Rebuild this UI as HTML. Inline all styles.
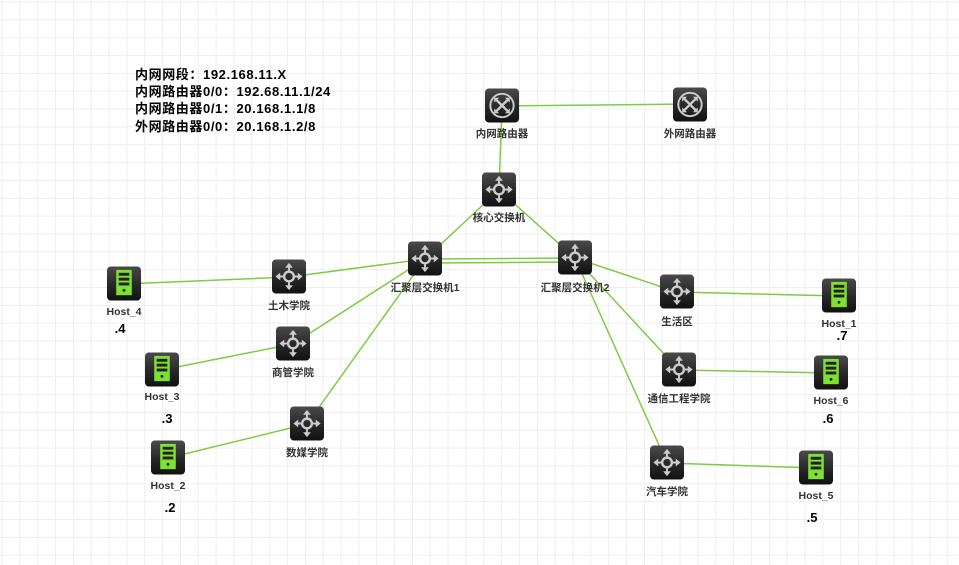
<!DOCTYPE html>
<html><head><meta charset="utf-8"><style>
html,body{margin:0;padding:0;}
body{width:959px;height:565px;overflow:hidden;background-color:#fff;
background-image:linear-gradient(to right,#efefef 1.2px,transparent 1.2px),linear-gradient(to bottom,#efefef 1.2px,transparent 1.2px);
background-size:17.85px 17.85px;background-position:1.5px 1.5px;}
svg{position:absolute;left:0;top:0;}
text{font-family:"Liberation Sans","Noto Sans CJK SC",sans-serif;font-size:10.5px;fill:#333;text-anchor:middle;font-weight:bold;}
.info{font-weight:bold;font-size:13px;fill:#000;text-anchor:start;letter-spacing:0.6px;}
.dot{font-size:13px;fill:#000;font-weight:bold;}
</style></head><body>
<svg width="959" height="565" viewBox="0 0 959 565">
<defs>
<linearGradient id="g" x1="0" y1="0" x2="0" y2="1"><stop offset="0" stop-color="#4a4a4a"/><stop offset="0.5" stop-color="#2a2a2a"/><stop offset="1" stop-color="#111"/></linearGradient>
<symbol id="sw" viewBox="0 0 36 36"><rect x="0.5" y="0.5" width="35" height="35" rx="4" fill="url(#g)"/>
<g fill="#ccc" stroke="#ccc"><circle cx="18" cy="18" r="5" fill="none" stroke-width="2.5"/>
<path d="M18 4l-4 5h8zM18 32l-4-5h8zM4 18l5-4v8zM32 18l-5-4v8z" stroke="none"/>
<path d="M18 8v5M18 23v5M8 18h5M23 18h5" stroke-width="2"/></g></symbol>
<symbol id="rt" viewBox="0 0 36 36"><rect x="0.5" y="0.5" width="35" height="35" rx="4" fill="url(#g)"/>
<circle cx="18" cy="18" r="12" fill="none" stroke="#ccc" stroke-width="2"/>
<path d="M11 11l14 14M25 11l-14 14" stroke="#ccc" stroke-width="2.5"/>
<path d="M10 10h5l-5 5zM26 10h-5l5 5zM10 26h5l-5-5zM26 26h-5l5-5z" fill="#ccc"/></symbol>
<symbol id="hs" viewBox="0 0 36 36"><rect x="0.5" y="0.5" width="35" height="35" rx="4" fill="url(#g)"/>
<rect x="10" y="4" width="16" height="26" fill="#7fe12f"/>
<rect x="12.5" y="7" width="11" height="3" fill="#222"/><rect x="12.5" y="12" width="11" height="3" fill="#222"/><rect x="12.5" y="17" width="11" height="3" fill="#222"/>
<circle cx="18" cy="25" r="1.5" fill="#222"/></symbol>
</defs>
<g stroke="#7ccc44" stroke-width="1.5" fill="none">
<line x1="502" y1="106" x2="690" y2="104"/>
<line x1="502" y1="106" x2="499" y2="190"/>
<line x1="499" y1="190" x2="425" y2="259"/>
<line x1="499" y1="190" x2="575" y2="258"/>
<line x1="425" y1="259" x2="575" y2="258"/>
<line x1="425" y1="263" x2="575" y2="262"/>
<line x1="425" y1="259" x2="289" y2="277"/>
<line x1="425" y1="259" x2="293" y2="344"/>
<line x1="425" y1="259" x2="307" y2="424"/>
<line x1="289" y1="277" x2="124" y2="284"/>
<line x1="293" y1="344" x2="162" y2="370"/>
<line x1="307" y1="424" x2="168" y2="458"/>
<line x1="575" y1="258" x2="677" y2="292"/>
<line x1="575" y1="258" x2="679" y2="370"/>
<line x1="575" y1="258" x2="667" y2="463"/>
<line x1="677" y1="292" x2="839" y2="296"/>
<line x1="679" y1="370" x2="831" y2="373"/>
<line x1="667" y1="463" x2="816" y2="468"/>
</g>
<use href="#rt" x="484.5" y="88" width="35" height="35"/>
<use href="#rt" x="672.5" y="87" width="35" height="35"/>
<use href="#sw" x="481.5" y="172" width="35" height="35"/>
<use href="#sw" x="407.5" y="241" width="35" height="35"/>
<use href="#sw" x="557.5" y="240" width="35" height="35"/>
<use href="#sw" x="271.5" y="259" width="35" height="35"/>
<use href="#sw" x="275.5" y="326" width="35" height="35"/>
<use href="#sw" x="289.5" y="406" width="35" height="35"/>
<use href="#sw" x="659.5" y="274" width="35" height="35"/>
<use href="#sw" x="661.5" y="352" width="35" height="35"/>
<use href="#sw" x="649.5" y="445" width="35" height="35"/>
<use href="#hs" x="106.5" y="266" width="35" height="35"/>
<use href="#hs" x="144.5" y="352" width="35" height="35"/>
<use href="#hs" x="150.5" y="440" width="35" height="35"/>
<use href="#hs" x="821.5" y="278" width="35" height="35"/>
<use href="#hs" x="813.5" y="355" width="35" height="35"/>
<use href="#hs" x="798.5" y="450" width="35" height="35"/>
<text x="502" y="137">内网路由器</text>
<text x="690" y="137">外网路由器</text>
<text x="499" y="221">核心交换机</text>
<text x="425" y="291">汇聚层交换机1</text>
<text x="575" y="291">汇聚层交换机2</text>
<text x="289" y="309">土木学院</text>
<text x="293" y="376">商管学院</text>
<text x="307" y="456">数媒学院</text>
<text x="677" y="325">生活区</text>
<text x="679" y="402">通信工程学院</text>
<text x="667" y="495">汽车学院</text>
<text x="124" y="315">Host_4</text>
<text x="162" y="400">Host_3</text>
<text x="168" y="489">Host_2</text>
<text x="839" y="327">Host_1</text>
<text x="831" y="404">Host_6</text>
<text x="816" y="499">Host_5</text>
<text class="dot" x="120" y="333">.4</text>
<text class="dot" x="167" y="423">.3</text>
<text class="dot" x="170" y="512">.2</text>
<text class="dot" x="842" y="340">.7</text>
<text class="dot" x="828" y="423">.6</text>
<text class="dot" x="812" y="522">.5</text>
<text class="info" x="135" y="79">内网网段：192.168.11.X</text>
<text class="info" x="135" y="96">内网路由器0/0：192.68.11.1/24</text>
<text class="info" x="135" y="113">内网路由器0/1：20.168.1.1/8</text>
<text class="info" x="135" y="131">外网路由器0/0：20.168.1.2/8</text>
</svg>
</body></html>
